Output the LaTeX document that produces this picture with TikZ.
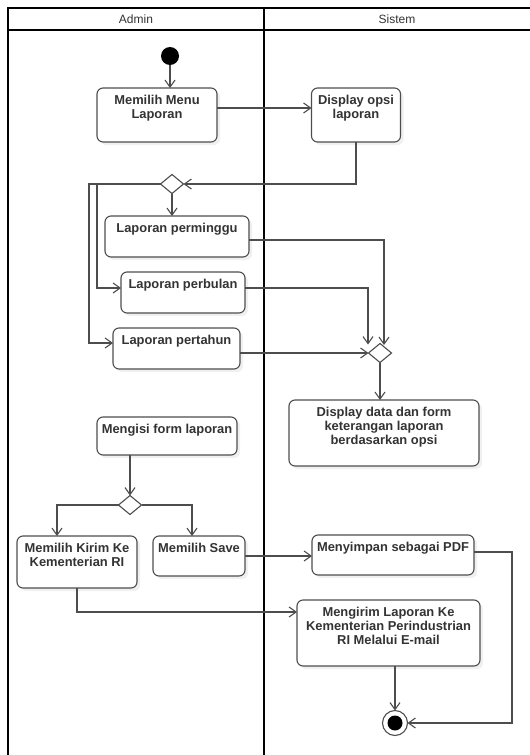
\documentclass[tikz,border=0pt]{standalone}
\usepackage{fontspec}
\setmainfont{Liberation Sans}
\usetikzlibrary{shapes.geometric}
\usetikzlibrary{arrows.meta}
\usetikzlibrary{shadows}

\definecolor{linegray}{HTML}{4D4D4D}
\definecolor{headgray}{HTML}{333333}

\begin{document}
\begin{tikzpicture}[x=1pt,y=1pt,inner sep=0pt,outer sep=0pt,
actbox/.style={draw=linegray,fill=white,rectangle,rounded corners=6pt,line width=1.1pt,drop shadow={opacity=0.12,shadow xshift=3pt,shadow yshift=-3pt}},
actlabel/.style={anchor=north,yshift=-7pt,align=center,font=\bfseries\fontsize{12.9}{14.3}\selectfont,text=headgray},
decision/.style={draw=linegray,fill=white,diamond,line width=1.1pt,minimum width=23pt,minimum height=19pt},
lanehead/.style={font=\fontsize{12}{14}\selectfont,text=headgray},
flow/.style={draw=linegray,line width=1.1pt,-{Straight Barb[length=7pt,width=10pt]}}]

\useasboundingbox (0,0) rectangle (530,-755);

% swimlanes
\draw[line width=2pt] (8,-8) rectangle (545,-770);
\draw[line width=2pt] (8,-30) -- (545,-30);
\draw[line width=2pt] (264,-8) -- (264,-770);
\draw (136,-19) node[lanehead] (admin) {Admin};
\draw (397,-19) node[lanehead] (sistem) {Sistem};

% activities
\draw (170,-56) node[circle,fill=black,minimum size=18pt] (init) {};
\draw (157,-115) node[actbox,minimum width=120pt,minimum height=54pt,label={[actlabel]north:{Memilih Menu\\Laporan}}] (mml) {};
\draw (356,-115) node[actbox,minimum width=89pt,minimum height=54pt,label={[actlabel]north:{Display opsi\\laporan}}] (dop) {};
\draw (172,-184) node[decision] (d1) {};
\draw (177,-236.5) node[actbox,minimum width=144pt,minimum height=41pt,label={[actlabel]north:{Laporan perminggu}}] (lpm) {};
\draw (183,-292.5) node[actbox,minimum width=124pt,minimum height=41pt,label={[actlabel]north:{Laporan perbulan}}] (lpb) {};
\draw (176.5,-348.5) node[actbox,minimum width=127pt,minimum height=41pt,label={[actlabel]north:{Laporan pertahun}}] (lpt) {};
\draw (380,-353) node[decision] (d2) {};
\draw (384,-433) node[actbox,minimum width=190pt,minimum height=66pt,label={[actlabel]north:{Display data dan form\\keterangan laporan\\berdasarkan opsi}}] (ddf) {};
\draw (167,-436) node[actbox,minimum width=140pt,minimum height=38pt,label={[actlabel]north:{Mengisi form laporan}}] (mfl) {};
\draw (130,-505) node[decision] (d3) {};
\draw (77,-562) node[actbox,minimum width=120pt,minimum height=52pt,label={[actlabel]north:{Memilih Kirim Ke\\Kementerian RI}}] (mkk) {};
\draw (199,-556) node[actbox,minimum width=92pt,minimum height=40pt,label={[actlabel]north:{Memilih Save}}] (msv) {};
\draw (393,-555) node[actbox,minimum width=162pt,minimum height=40pt,label={[actlabel]north:{Menyimpan sebagai PDF}}] (msp) {};
\draw (388.5,-633) node[actbox,minimum width=183pt,minimum height=66pt,label={[actlabel]north:{Mengirim Laporan Ke\\Kementerian Perindustrian\\RI Melalui E-mail}}] (mgr) {};
\draw (395,-723) node[circle,draw=linegray,fill=white,line width=1.1pt,minimum size=25pt,
  path picture={\fill[black] (path picture bounding box.center) circle (7.5pt);}] (fin) {};

% connectors
\draw[flow] (init.south) -- (init.south |- mml.north);
\draw[flow] (mml.east |- 0,-108) -- (dop.west |- 0,-108);
\draw[flow] (dop.south) |- (d1.east);
\draw[flow] (d1.south) -- (d1.south |- lpm.north);
\draw[flow] (d1.west) -- ++(-63.5,0) |- (lpb.west |- 0,-288);
\draw[flow] (d1.west) -- ++(-71.5,0) |- (lpt.west |- 0,-343);
\draw[flow] (lpm.east |- 0,-240) -| ([xshift=4pt,yshift=-1.5pt]d2.north);
\draw[flow] (lpb.east |- 0,-288) -| ([xshift=-12pt,yshift=-1pt]d2.north);
\draw[flow] (lpt.east |- 0,-353) -- (d2.west);
\draw[flow] (d2.south) -- (d2.south |- ddf.north);
\draw[flow] (d3.north |- mfl.south) -- (d3.north);
\draw[flow] (d3.west) -| ([xshift=-20pt]mkk.north);
\draw[flow] (d3.east) -| ([xshift=-7pt]msv.north);
\draw[flow] (msv.east |- 0,-556) -- (msp.west |- 0,-556);
\draw[flow] (msp.east |- 0,-552) -- ++(38,0) |- (fin.east);
\draw[flow] (mkk.south) |- (mgr.west |- 0,-612);
\draw[flow] (mgr.south -| fin.north) -- (fin.north);
\end{tikzpicture}
\end{document}
